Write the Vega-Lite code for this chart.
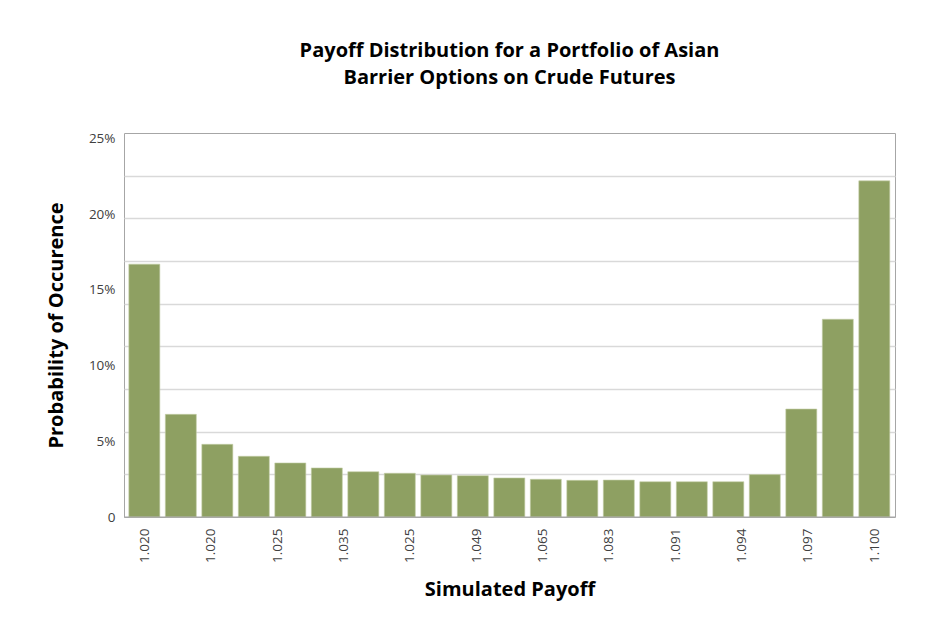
{
  "$schema": "https://vega.github.io/schema/vega-lite/v6.json",
  "description": "Payoff distribution histogram, simulated payoff bins",
  "width": 771,
  "height": 384,
  "autosize": {"type": "none"},
  "padding": {"left": 124, "top": 133, "right": 38, "bottom": 123},
  "background": "white",
  "title": {
    "text": ["Payoff Distribution for a Portfolio of Asian", "Barrier Options on Crude Futures"],
    "font": "Open Sans",
    "fontSize": 20,
    "fontWeight": "bold",
    "color": "#000000",
    "lineHeight": 27,
    "offset": 43,
    "anchor": "middle"
  },
  "layer": [
    {
      "data": {
        "values": [
          {"bin": 1, "p": 0.167},
          {"bin": 2, "p": 0.0678},
          {"bin": 3, "p": 0.048},
          {"bin": 4, "p": 0.0401},
          {"bin": 5, "p": 0.0357},
          {"bin": 6, "p": 0.0324},
          {"bin": 7, "p": 0.0299},
          {"bin": 8, "p": 0.0289},
          {"bin": 9, "p": 0.0277},
          {"bin": 10, "p": 0.0273},
          {"bin": 11, "p": 0.0258},
          {"bin": 12, "p": 0.0249},
          {"bin": 13, "p": 0.0242},
          {"bin": 14, "p": 0.0244},
          {"bin": 15, "p": 0.0233},
          {"bin": 16, "p": 0.0233},
          {"bin": 17, "p": 0.0233},
          {"bin": 18, "p": 0.028},
          {"bin": 19, "p": 0.0713},
          {"bin": 20, "p": 0.1306},
          {"bin": 21, "p": 0.222}
        ]
      },
      "mark": {"type": "bar", "size": 31, "color": "#8ea062", "stroke": "#c4cea8", "strokeWidth": 0.6},
      "encoding": {
        "x": {
          "field": "bin",
          "type": "quantitative",
          "scale": {"domain": [0.58, 21.43], "nice": false, "zero": false},
          "axis": {
            "values": [1, 2.818, 4.636, 6.455, 8.273, 10.091, 11.909, 13.727, 15.545, 17.364, 19.182, 21],
            "labelExpr": "['1.020','1.020','1.025','1.035','1.025','1.049','1.065','1.083','1.091','1.094','1.097','1.100'][round((datum.value - 1) * 11 / 20)]",
            "labelAngle": 270,
            "labelPadding": 11,
            "ticks": false,
            "grid": false,
            "domain": false,
            "title": "Simulated Payoff",
            "titlePadding": 17
          }
        },
        "y": {
          "field": "p",
          "type": "quantitative",
          "scale": {"domain": [0, 0.2536], "nice": false},
          "axis": {
            "orient": "right",
            "values": [0.02818, 0.05636, 0.08453, 0.11271, 0.14089, 0.16907, 0.19724, 0.22542],
            "grid": true,
            "gridColor": "#d9d9d9",
            "gridWidth": 1.5,
            "labels": false,
            "ticks": false,
            "domain": false,
            "title": null
          }
        }
      }
    },
    {
      "data": {"values": [{}]},
      "mark": {"type": "rule", "color": "#a6a6a6"},
      "encoding": {
        "y": {
          "datum": 0,
          "type": "quantitative",
          "axis": {
            "orient": "left",
            "values": [0, 0.05, 0.1, 0.15, 0.2, 0.25],
            "labelExpr": "datum.value == 0 ? '0' : format(datum.value, '.0%')",
            "grid": false,
            "ticks": false,
            "domain": false,
            "labelPadding": 9,
            "title": "Probability of Occurence",
            "titlePadding": 22
          }
        }
      }
    }
  ],
  "resolve": {"axis": {"y": "independent"}},
  "config": {
    "view": {"stroke": "#a6a6a6", "strokeWidth": 1},
    "axis": {
      "labelFont": "Open Sans",
      "labelFontSize": 13.5,
      "labelColor": "#404040",
      "titleFont": "Open Sans",
      "titleFontSize": 20,
      "titleFontWeight": "bold",
      "titleColor": "#000000"
    }
  }
}
